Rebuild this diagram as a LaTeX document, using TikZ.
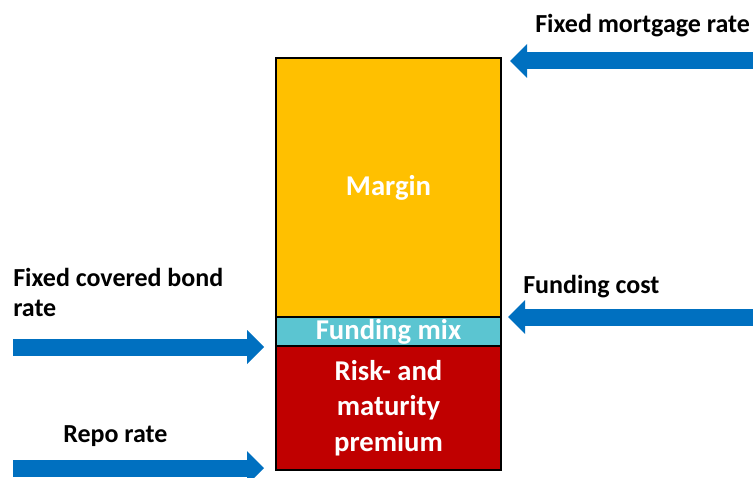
\documentclass[tikz,border=0pt]{standalone}
\usepackage{fontspec}
\setmainfont{Carlito}
\usetikzlibrary{positioning,arrows.meta}

\definecolor{marginorange}{HTML}{FFC000}
\definecolor{mixcyan}{HTML}{5BC5D1}
\definecolor{premiumred}{HTML}{C00000}
\definecolor{arrowblue}{HTML}{0070C0}

\tikzset{
	layer/.style = {draw = black, line width = 1.8pt, outer sep = 0pt, inner sep = 0pt,
		minimum width = 168.75pt, text = white, align = center,
		font = \fontsize{21.5}{26.6}\selectfont\bfseries},
	rate/.style = {anchor = base west, inner sep = 0pt, align = left,
		font = \fontsize{19.5}{22.5}\selectfont\bfseries},
	flow/.style = {draw = arrowblue, line width = 12.75pt,
		-{Triangle[width = 25.5pt, length = 12.75pt, line width = 0pt]}}
}

\begin{document}
\begin{tikzpicture}[x = 0.75pt, y = -0.75pt]
		
		\useasboundingbox (0,0) rectangle (753,478);
		
		\node[layer, fill = marginorange, minimum height = 194.25pt] (margin) at (388.5,187.5) {Margin};
		\node[layer, fill = mixcyan, minimum height = 21.75pt, below = 0pt of margin] (mix) {Funding mix};
		\node[layer, fill = premiumred, minimum height = 93pt, below = 0pt of mix] (premium) {Risk- and\\maturity\\premium};
		
		\coordinate (mortgageStart) at (760,61);
		\coordinate (mortgageTip) at (510,61);
		\coordinate (costStart) at (760,317);
		\coordinate (costTip) at (508,317);
		\coordinate (bondStart) at (13,347);
		\coordinate (bondTip) at (264,347);
		\coordinate (repoStart) at (13,468);
		\coordinate (repoTip) at (264,468);
		
		\draw[flow] (mortgageStart) -- (mortgageTip);
		\draw[flow] (costStart) -- (costTip);
		\draw[flow] (bondStart) -- (bondTip);
		\draw[flow] (repoStart) -- (repoTip);
		
		\node[rate] (mortgage) at (535,33) {Fixed mortgage rate};
		\node[rate] (cost) at (523,293) {Funding cost};
		\node[rate] (bond) at (13,316) {Fixed covered bond\\rate};
		\node[rate] (repo) at (63,442) {Repo rate};
		
	\end{tikzpicture}
\end{document}
